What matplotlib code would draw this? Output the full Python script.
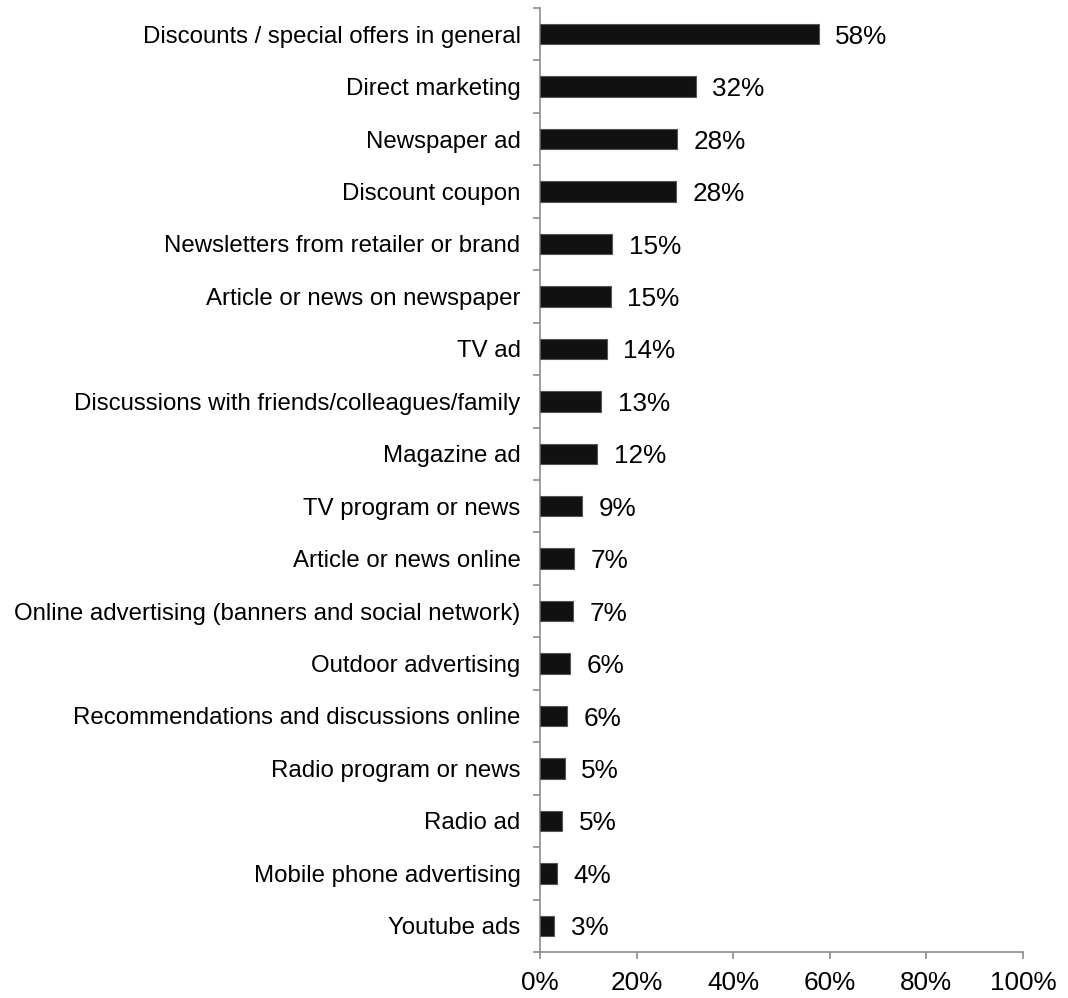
import matplotlib
matplotlib.use("Agg")
from matplotlib import pyplot as plt
from matplotlib.ticker import FixedLocator, PercentFormatter
import numpy as np

plt.rcParams['font.family'] = ['Liberation Sans', 'DejaVu Sans']

sources = [
    'Discounts / special offers in general',
    'Direct marketing',
    'Newspaper ad',
    'Discount coupon',
    'Newsletters from retailer or brand',
    'Article or news on newspaper',
    'TV ad',
    'Discussions with friends/colleagues/family',
    'Magazine ad',
    'TV program or news',
    'Article or news online',
    'Online advertising (banners and social network)',
    'Outdoor advertising',
    'Recommendations and discussions online',
    'Radio program or news',
    'Radio ad',
    'Mobile phone advertising',
    'Youtube ads',
]

shares = [57.7, 32.2, 28.4, 28.1, 14.9, 14.6, 13.8, 12.6, 11.8,
          8.7, 7.0, 6.8, 6.2, 5.6, 5.1, 4.6, 3.5, 3.0]

x_ticks = [0, 20, 40, 60, 80, 100]

axis_grey = '#8c8c8c'

fig = plt.figure(figsize=(10.68, 9.98), dpi=100)
ax = fig.add_axes([540 / 1068, 1 - 952 / 998, 483 / 1068, 944 / 998])

pos = np.arange(len(sources))
bars = ax.barh(pos, shares, height=0.39, color='#111111',
               edgecolor='#555555', linewidth=0.8, zorder=3)

for b, v in zip(bars, shares):
    ax.annotate(f'{v:.0f}%', xy=(b.get_width(), b.get_y() + b.get_height() / 2),
                xytext=(12, 0), textcoords='offset points',
                va='center_baseline', ha='left', fontsize=18.8, color='black')

ax.set_xlim(0, 100)
ax.set_ylim(len(sources) - 0.5, -0.5)

ax.xaxis.set_major_locator(FixedLocator(x_ticks))
ax.xaxis.set_major_formatter(PercentFormatter(decimals=0))
ax.tick_params(axis='x', direction='out', length=5, width=1.2,
               color=axis_grey, labelsize=18.8, pad=9)

ax.set_yticks(pos)
ax.set_yticklabels(sources, fontsize=17.25)
ax.yaxis.set_minor_locator(FixedLocator(np.arange(len(sources) + 1) - 0.5))
ax.tick_params(axis='y', which='major', length=0, pad=14)
ax.tick_params(axis='y', which='minor', direction='out', length=5,
               width=1.2, color=axis_grey)

for side in ['top', 'right']:
    ax.spines[side].set_visible(False)
for side in ['left', 'bottom']:
    ax.spines[side].set_color(axis_grey)
    ax.spines[side].set_linewidth(1.2)

fig.savefig('out.png', dpi=100)
